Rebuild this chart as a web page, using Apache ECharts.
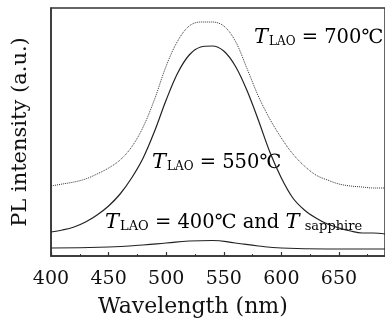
<!DOCTYPE html>
<html><head><meta charset="utf-8">
<script src="https://cdn.jsdelivr.net/npm/echarts@6/dist/echarts.min.js"></script>
<style>html,body{margin:0;padding:0;background:#fff}#c{width:385px;height:329px}</style>
</head><body><div id="c"></div>
<script>
const wavelength = [400,410,420,430,440,450,460,470,480,490,500,510,520,530,540,550,560,570,580,590,600,610,620,630,640,650,660,670,680,690];
const intensity700 = [70,72,74,77,82,88,96,109,129,157,190,215,230,234,234,230,215,188,160,137,118,102,90,81,76,72,70,69,68,68];
const intensity550 = [24,26,29,34,41,50,62,78,98,125,156,183,201,209,210,205,190,166,136,104,78,58,46,38,32,28,25,23,23,22];
const wavelength400 = [400,450,480,500,520,540,560,580,600,640,690];
const intensity400 = [8,9,11,13,15,15.5,13,10,8,7,7];
const xTicks = [400,450,500,550,600,650];

const chart = echarts.init(document.getElementById('c'));
const pair = (xs, ys) => xs.map((x,i)=>[x, ys[i]]);
const F = 'DejaVu Serif';
const rich = {
  t:{fontFamily:F,fontStyle:'italic',fontSize:21,color:'#111'},
  s:{fontFamily:F,fontSize:12,color:'#111',padding:[9,0,0,1]},
  n:{fontFamily:F,fontSize:19.5,color:'#111'}
};
chart.setOption({
  animation:false,
  grid:{left:51,top:8,width:348,bottom:73,show:true,borderColor:'#333',borderWidth:1.5,backgroundColor:'#fff'},
  xAxis:{type:'value',min:400,max:690,interval:50,
    axisLine:{onZero:false,lineStyle:{color:'#333',width:1.5}},
    axisTick:{inside:true,length:4,lineStyle:{color:'#333',width:1.2}},
    minorTick:{show:true,splitNumber:2,length:2,lineStyle:{color:'#333',width:1}},
    splitLine:{show:false},
    axisLabel:{fontFamily:F,fontSize:19,color:'#111',margin:14,showMaxLabel:false,
      formatter:v=>xTicks.includes(v)?String(v):''}
  },
  yAxis:{type:'value',min:0,max:248,
    name:'PL intensity (a.u.)',nameLocation:'middle',nameGap:20,
    nameTextStyle:{fontFamily:F,fontSize:21,color:'#111'},
    axisLine:{show:true,lineStyle:{color:'#333',width:1.5}},axisTick:{show:false},axisLabel:{show:false},splitLine:{show:false}},
  series:[
    {type:'line',data:pair(wavelength,intensity700),smooth:0.35,showSymbol:false,lineStyle:{color:'#333',width:1,type:'dotted'}},
    {type:'line',data:pair(wavelength,intensity550),smooth:0.35,showSymbol:false,lineStyle:{color:'#222',width:1.2}},
    {type:'line',data:pair(wavelength400,intensity400),smooth:0.5,showSymbol:false,lineStyle:{color:'#222',width:1.2}}
  ],
  graphic:[
    {type:'text',left:98,top:296,style:{text:'Wavelength (nm)',fontFamily:F,fontSize:22,fill:'#111'}},
    {type:'text',left:254,top:27,style:{text:'{t|T}{s|LAO}{n| = 700℃}',rich}},
    {type:'text',left:152,top:152,style:{text:'{t|T}{s|LAO}{n| = 550℃}',rich}},
    {type:'text',left:105,top:212,style:{text:'{t|T}{s|LAO}{n| = 400℃ and }{t|T}{s| sapphire}',rich:Object.assign({},rich,{s:{fontFamily:F,fontSize:13,color:'#111',padding:[9,0,0,1]}})}}
  ]
});
</script></body></html>
